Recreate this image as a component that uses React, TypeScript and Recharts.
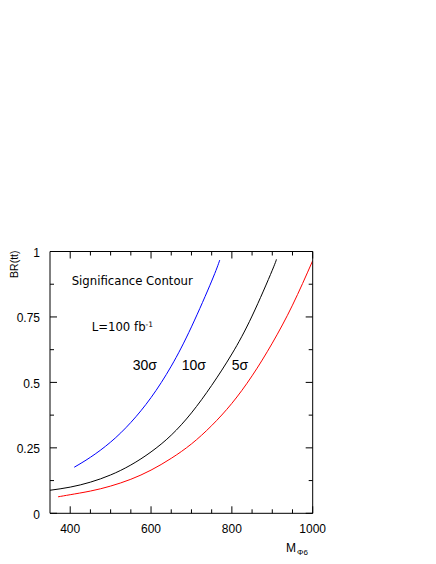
import React from "react";
import { LineChart, Line, XAxis, YAxis } from "recharts";

// 30 sigma contour (blue)
const mass30 = [410, 450, 500, 550, 600, 650, 700, 750, 770];
const br30 = [0.176, 0.214, 0.272, 0.347, 0.442, 0.562, 0.712, 0.887, 0.967];
// 10 sigma contour (black)
const mass10 = [350, 400, 450, 500, 550, 600, 650, 700, 750, 800, 850, 900, 910];
const br10 = [0.088, 0.1, 0.119, 0.1465, 0.1845, 0.2345, 0.2985, 0.3835, 0.4885, 0.6085, 0.7535, 0.9285, 0.9705];
// 5 sigma contour (red)
const mass5 = [370, 400, 450, 500, 550, 600, 650, 700, 750, 800, 850, 900, 950, 1000];
const br5 = [0.063, 0.071, 0.085, 0.104, 0.13, 0.165, 0.21, 0.265, 0.335, 0.42, 0.525, 0.65, 0.795, 0.965];

const xTicks = [400, 450, 500, 550, 600, 650, 700, 750, 800, 850, 900, 950, 1000];
const xMajor = [400, 600, 800, 1000];
const yTicks = [0, 0.125, 0.25, 0.375, 0.5, 0.625, 0.75, 0.875, 1];
const yMajor = [0, 0.25, 0.5, 0.75, 1];
const yLabels = ["0", "0.25", "0.5", "0.75", "1"];

const toRows = (xs: number[], ys: number[]) => xs.map((m, i) => ({ m, br: ys[i] }));
const data30 = toRows(mass30, br30);
const data10 = toRows(mass10, br10);
const data5 = toRows(mass5, br5);

const FONT = "'Liberation Sans', Arial, Helvetica, sans-serif";
const FONT2 = "'DejaVu Sans', Verdana, sans-serif";

const BottomTick = (props: any) => {
  const { x, y, payload } = props;
  const v = payload.value;
  const major = xMajor.includes(v);
  return (
    <g>
      <line x1={x} x2={x} y1={y} y2={y - (major ? 7 : 4)} stroke="#000" strokeWidth={1} />
      {major && (
        <text x={x} y={y + 20} textAnchor="middle" fontSize={12} fontFamily={FONT} fill="#000">
          {v}
        </text>
      )}
    </g>
  );
};

const TopTick = (props: any) => {
  const { x, y, payload } = props;
  const major = xMajor.includes(payload.value);
  return <line x1={x} x2={x} y1={y} y2={y + (major ? 7 : 4)} stroke="#000" strokeWidth={1} />;
};

const LeftTick = (props: any) => {
  const { x, y, payload } = props;
  const v = payload.value;
  const idx = yMajor.indexOf(v);
  const major = idx >= 0;
  return (
    <g>
      <line x1={x} x2={x + (major ? 7 : 4)} y1={y} y2={y} stroke="#000" strokeWidth={1} />
      {major && (
        <text x={x - 10} y={y + 5.5} textAnchor="end" fontSize={12} fontFamily={FONT} fill="#000">
          {yLabels[idx]}
        </text>
      )}
    </g>
  );
};

const RightTick = (props: any) => {
  const { x, y, payload } = props;
  const major = yMajor.includes(payload.value);
  return <line x1={x} x2={x - (major ? 7 : 4)} y1={y} y2={y} stroke="#000" strokeWidth={1} />;
};

export default function App() {
  const W = 420;
  const H = 548;
  return (
    <div style={{ position: "relative", width: W, height: H }}>
      <LineChart
        width={W}
        height={H}
        margin={{ top: 242.5, right: 114.3, bottom: 12.7, left: 2 }}
      >
        <XAxis
          xAxisId="bottom"
          dataKey="m"
          type="number"
          domain={[350, 1000]}
          allowDataOverflow
          ticks={xTicks}
          interval={0}
          tickSize={0}
          tickMargin={0}
          tickLine={false}
          axisLine={{ stroke: "#000", strokeWidth: 1 }}
          tick={<BottomTick />}
          height={30}
        />
        <XAxis
          xAxisId="top"
          orientation="top"
          dataKey="m"
          type="number"
          domain={[350, 1000]}
          allowDataOverflow
          ticks={xTicks}
          interval={0}
          tickSize={0}
          tickMargin={0}
          tickLine={false}
          axisLine={{ stroke: "#000", strokeWidth: 1 }}
          tick={<TopTick />}
          height={1}
        />
        <YAxis
          yAxisId="left"
          type="number"
          domain={[0, 1]}
          allowDataOverflow
          ticks={yTicks}
          interval={0}
          tickSize={0}
          tickMargin={0}
          tickLine={false}
          axisLine={{ stroke: "#000", strokeWidth: 1 }}
          tick={<LeftTick />}
          width={40}
        />
        <YAxis
          yAxisId="right"
          orientation="right"
          type="number"
          domain={[0, 1]}
          allowDataOverflow
          ticks={yTicks}
          interval={0}
          tickSize={0}
          tickMargin={0}
          tickLine={false}
          axisLine={{ stroke: "#000", strokeWidth: 1 }}
          tick={<RightTick />}
          width={1}
        />
        <Line
          xAxisId="bottom"
          yAxisId="left"
          data={data30}
          dataKey="br"
          type="natural"
          stroke="#0000ff"
          strokeWidth={1}
          dot={false}
          isAnimationActive={false}
        />
        <Line
          xAxisId="bottom"
          yAxisId="left"
          data={data10}
          dataKey="br"
          type="natural"
          stroke="#000000"
          strokeWidth={1}
          dot={false}
          isAnimationActive={false}
        />
        <Line
          xAxisId="bottom"
          yAxisId="left"
          data={data5}
          dataKey="br"
          type="natural"
          stroke="#ff0000"
          strokeWidth={1}
          dot={false}
          isAnimationActive={false}
        />
      </LineChart>
      <svg
        width={W}
        height={H}
        style={{ position: "absolute", left: 0, top: 0, pointerEvents: "none" }}
      >
        <text x={63.7} y={276.7} fontSize={11.7} fontFamily={FONT2} fill="#000">
          Significance Contour
        </text>
        <text x={83.7} y={323.3} fontSize={11.7} fontFamily={FONT2} fill="#000">
          L=100 fb
          <tspan fontSize={7.5} dy={-4.5}>-1</tspan>
        </text>
        <text x={124.7} y={362} fontSize={14} fontFamily={FONT} fill="#000">30σ</text>
        <text x={173.7} y={362} fontSize={14} fontFamily={FONT} fill="#000">10σ</text>
        <text x={223.7} y={362} fontSize={14} fontFamily={FONT} fill="#000">5σ</text>
        <text
          x={10.3}
          y={256.2}
          transform="rotate(-90 10.3 256.2)"
          textAnchor="middle"
          fontSize={10.5}
          fontFamily={FONT}
          fill="#000"
        >
          BR(tt)
        </text>
        <text x={278} y={543.7} fontSize={12} fontFamily={FONT} fill="#000">M</text>
        <text x={289} y={547} fontSize={8} fontFamily={FONT} fill="#000">Φ6</text>
      </svg>
    </div>
  );
}
